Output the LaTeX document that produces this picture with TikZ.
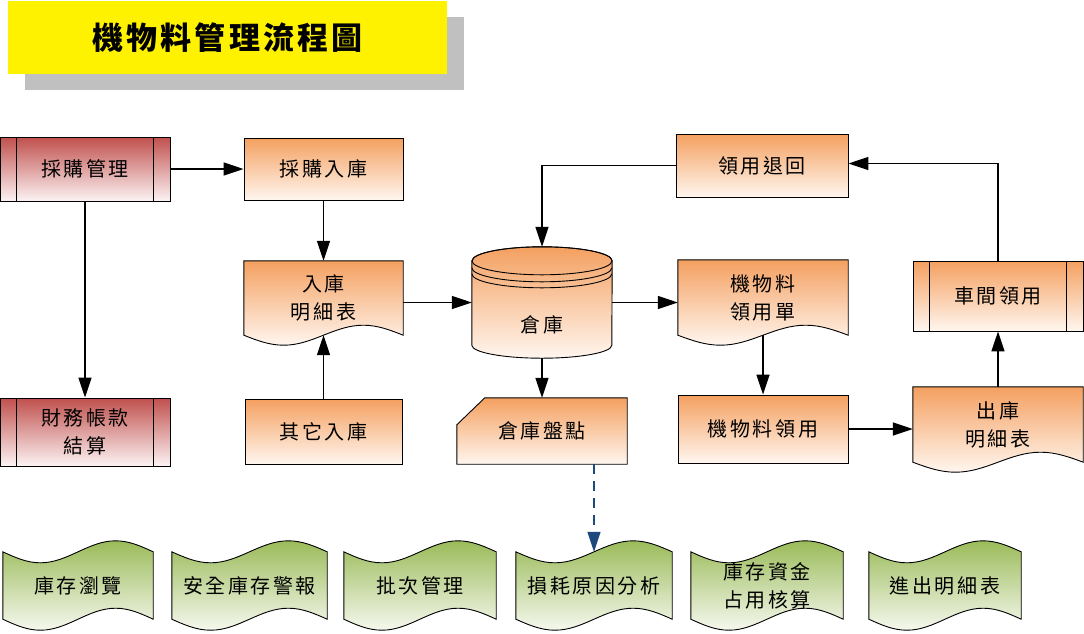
\documentclass[tikz,border=0pt]{standalone}
\usepackage{fontspec}
\newfontfamily\cjk[LetterSpace=13]{Noto Sans CJK TC}
\newfontfamily\cjktitle[LetterSpace=10]{Noto Sans CJK TC}
\usetikzlibrary{arrows.meta,calc,backgrounds,shadows}

\definecolor{orTop}{HTML}{F4A060}
\definecolor{orBot}{HTML}{FFF6EF}
\definecolor{rdTop}{HTML}{C0504D}
\definecolor{rdBot}{HTML}{FCF3F3}
\definecolor{grTop}{HTML}{9BBB59}
\definecolor{grBot}{HTML}{F5F8EE}
\definecolor{shadowgray}{HTML}{C0C0C0}
\definecolor{dashblue}{HTML}{1F497D}

\tikzset{
  every node/.style={font=\cjk\fontsize{20}{28}\selectfont, inner sep=0pt, align=center},
  boxline/.style={draw=black, line width=0.9pt},
  orbox/.style={boxline, top color=orTop, bottom color=orBot},
  redbox/.style={boxline, top color=rdTop, bottom color=rdBot},
  orfill/.style={boxline, top color=orTop, bottom color=orBot},
  grfill/.style={boxline, top color=grTop, bottom color=grBot},
  titlebox/.style={fill=yellow, minimum width=439pt, minimum height=73pt,
    font=\cjktitle\bfseries\fontsize{31}{36}\selectfont,
    drop shadow={shadow xshift=17pt, shadow yshift=-16pt, fill=shadowgray, opacity=1}},
  flow/.style={line width=1.6pt, -{Triangle[length=20pt,width=13pt]}},
  dashflow/.style={dashblue, line width=1.4pt, dash pattern=on 10pt off 7pt,
    -{Triangle[length=20pt,width=13pt]}},
}

% two inner bars of a predefined process box
\newcommand\procbars[1]{%
  \draw[boxline] ([xshift=17pt]#1.north west) -- ([xshift=17pt]#1.south west)
    ([xshift=-17pt]#1.north east) -- ([xshift=-17pt]#1.south east);}

% document with wavy bottom
\newcommand\docshape[1]{%
  \begin{scope}[on background layer]
  \path[orfill] (#1.north west) -- (#1.north east) -- (#1.south east)
    sin ($(#1.south east)!.25!(#1.south west)+(0,-10)$)
    cos ($(#1.south east)!.5!(#1.south west)$)
    sin ($(#1.south east)!.75!(#1.south west)+(0,10)$)
    cos (#1.south west) -- cycle;
  \end{scope}}

% punched tape
\newcommand\tapeshape[1]{%
  \begin{scope}[on background layer]
  \path[grfill] (#1.north west)
    sin ($(#1.north west)!.25!(#1.north east)+(0,11)$)
    cos ($(#1.north west)!.5!(#1.north east)$)
    sin ($(#1.north west)!.75!(#1.north east)+(0,-11)$)
    cos (#1.north east) -- (#1.south east)
    sin ($(#1.south east)!.25!(#1.south west)+(0,-11)$)
    cos ($(#1.south east)!.5!(#1.south west)$)
    sin ($(#1.south east)!.75!(#1.south west)+(0,11)$)
    cos (#1.south west) -- cycle;
  \end{scope}}

% card with cut corner
\newcommand\cardshape[1]{%
  \begin{scope}[on background layer]
  \path[orfill] ([xshift=28pt]#1.north west) -- (#1.north east) -- (#1.south east)
    -- (#1.south west) -- ([yshift=-27pt]#1.north west) -- cycle;
  \end{scope}}

% stored data cylinder
\newcommand\cylshape[1]{%
  \begin{scope}[on background layer]
  \path[orfill] ([yshift=-14pt]#1.north west) -- ([yshift=13pt]#1.south west)
    arc[start angle=180, end angle=0, x radius=70, y radius=13]
    -- ([yshift=-14pt]#1.north east)
    arc[start angle=0, end angle=-180, x radius=70, y radius=14] -- cycle;
  \draw[boxline] ([yshift=-14pt]#1.north) ellipse[x radius=70, y radius=14];
  \draw[boxline] ([yshift=-21pt]#1.north west) arc[start angle=180, end angle=0, x radius=70, y radius=14];
  \draw[boxline] ([yshift=-27pt]#1.north west) arc[start angle=180, end angle=0, x radius=70, y radius=14];
  \end{scope}}

\begin{document}
\begin{tikzpicture}[x=1pt,y=-1pt]
  \useasboundingbox (0,0) rectangle (1084,633);
  \node[titlebox] (title) at (227.5,37.5) {機物料管理流程圖};

  % purchase side
  \node[redbox, minimum width=170pt, minimum height=64pt] (cggl) at (85,169) {採購管理};
  \procbars{cggl}
  \node[redbox, minimum width=170pt, minimum height=68pt] (cwjs) at (85,432) {財務帳款\\結算};
  \procbars{cwjs}
  \node[orbox, minimum width=159pt, minimum height=62pt] (cgrk) at (323.5,169) {採購入庫};
  \node[minimum width=159pt, minimum height=74pt] (rkmx) at (323.5,298) {入庫\\明細表};
  \docshape{rkmx}
  \node[orbox, minimum width=157pt, minimum height=65pt] (qtrk) at (323.5,431.5) {其它入庫};

  % warehouse
  \node[minimum width=140pt, minimum height=111pt,
    label={[yshift=-22pt]center:倉庫}] (ck) at (542,302.5) {};
  \cylshape{ck}
  \node[minimum width=170pt, minimum height=66pt] (pd) at (542,431) {倉庫盤點};
  \cardshape{pd}

  % issue side
  \node[orbox, minimum width=172pt, minimum height=63pt] (lyth) at (762,165.5) {領用退回};
  \node[minimum width=170pt, minimum height=75pt] (lyd) at (763,297.5) {機物料\\領用單};
  \docshape{lyd}
  \node[orbox, minimum width=170pt, minimum height=68pt] (jwly) at (763,429) {機物料領用};
  \node[orbox, minimum width=170pt, minimum height=70pt] (cjly) at (998,296) {車間領用};
  \procbars{cjly}
  \node[minimum width=170pt, minimum height=75pt] (ckmx) at (998,424.5) {出庫\\明細表};
  \docshape{ckmx}

  % reports
  \node[minimum width=150pt, minimum height=67pt] (kcll) at (78,585.5) {庫存瀏覽};
  \tapeshape{kcll}
  \node[minimum width=155pt, minimum height=67pt] (aqkc) at (249.5,585.5) {安全庫存警報};
  \tapeshape{aqkc}
  \node[minimum width=152pt, minimum height=67pt] (pcgl) at (420,585.5) {批次管理};
  \tapeshape{pcgl}
  \node[minimum width=156pt, minimum height=67pt] (shyy) at (594,585.5) {損耗原因分析};
  \tapeshape{shyy}
  \node[minimum width=152pt, minimum height=67pt] (kczj) at (767,585.5) {庫存資金\\占用核算};
  \tapeshape{kczj}
  \node[minimum width=152pt, minimum height=67pt] (jcmx) at (945,585.5) {進出明細表};
  \tapeshape{jcmx}

  % flows
  \draw[flow] (cggl.east) -- (cgrk.west);
  \draw[flow] (cggl.south) -- (cwjs.north);
  \draw[flow] (cgrk.south) -- (rkmx.north);
  \draw[flow] (qtrk.north) -- (rkmx.south);
  \draw[flow] (ck.west -| rkmx.east) -- (ck.west);
  \draw[flow] (ck.east) -- (ck.east -| lyd.west);
  \draw[flow] (ck.south) -- (pd.north);
  \draw[flow] (lyth.west) -| (ck.north);
  \draw[flow] (cjly.north) |- ([yshift=2pt]lyth.east);
  \draw[flow] (lyd.south) -- (jwly.north);
  \draw[flow] (jwly.east) -- (jwly.east -| ckmx.west);
  \draw[flow] (ckmx.north) -- (cjly.south);
  \draw[dashflow] (pd.south -| shyy.north) -- (shyy.north);
\end{tikzpicture}
\end{document}
